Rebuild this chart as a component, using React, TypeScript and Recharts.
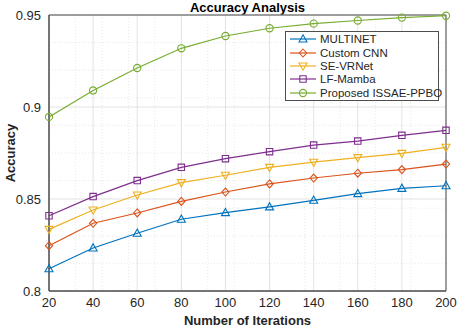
import { LineChart, Line, XAxis, YAxis, CartesianGrid, ReferenceArea } from "recharts";

const iterations = [20, 40, 60, 80, 100, 120, 140, 160, 180, 200];
const multinet = [0.8121, 0.8234, 0.8314, 0.839, 0.8426, 0.8457, 0.8493, 0.8529, 0.8558, 0.8572];
const customCnn = [0.8246, 0.8368, 0.8424, 0.8487, 0.8538, 0.8582, 0.8614, 0.864, 0.866, 0.869];
const seVrnet = [0.8335, 0.844, 0.8522, 0.8589, 0.8629, 0.8672, 0.87, 0.8725, 0.8748, 0.8781];
const lfMamba = [0.8409, 0.8513, 0.86, 0.8672, 0.8719, 0.8757, 0.8793, 0.8815, 0.8846, 0.8873];
const proposed = [0.8946, 0.909, 0.9212, 0.9319, 0.9386, 0.9428, 0.9453, 0.947, 0.9486, 0.9496];
const yTicks = [0.8, 0.85, 0.9, 0.95];

const SERIES = [
  { key: "multinet", name: "MULTINET", color: "#0072BD", marker: "up", values: multinet },
  { key: "customCnn", name: "Custom CNN", color: "#D95319", marker: "diamond", values: customCnn },
  { key: "seVrnet", name: "SE-VRNet", color: "#EDB120", marker: "down", values: seVrnet },
  { key: "lfMamba", name: "LF-Mamba", color: "#7E2F8E", marker: "square", values: lfMamba },
  { key: "proposed", name: "Proposed ISSAE-PPBO", color: "#77AC30", marker: "circle", values: proposed },
];

const data = iterations.map((it, i) => {
  const row: Record<string, number> = { iter: it };
  SERIES.forEach((s) => (row[s.key] = s.values[i]));
  return row;
});

// minor grid like matlab
const minorX = Array.from({ length: 46 }, (_, i) => 20 + i * 4);
const minorY = Array.from({ length: 31 }, (_, i) => +(0.8 + i * 0.005).toFixed(3));

const FONT = '"Liberation Sans", Arial, sans-serif';
const TXT = "#262626";

function markerPath(kind: string, cx: number, cy: number) {
  const r = 3.6;
  switch (kind) {
    case "up":
      return `M${cx},${cy - r - 0.6} L${cx + r + 0.4},${cy + r - 0.6} L${cx - r - 0.4},${cy + r - 0.6} Z`;
    case "down":
      return `M${cx},${cy + r + 0.6} L${cx + r + 0.4},${cy - r + 0.6} L${cx - r - 0.4},${cy - r + 0.6} Z`;
    case "diamond":
      return `M${cx},${cy - r - 0.4} L${cx + r},${cy} L${cx},${cy + r + 0.4} L${cx - r},${cy} Z`;
    case "square":
      return `M${cx - 3.2},${cy - 3.2} h6.4 v6.4 h-6.4 Z`;
    default:
      return `M${cx - r},${cy} a${r},${r} 0 1,0 ${2 * r},0 a${r},${r} 0 1,0 ${-2 * r},0`;
  }
}

function Marker({ kind, color, cx, cy }: { kind: string; color: string; cx?: number; cy?: number }) {
  if (cx == null || cy == null) return null;
  return <path d={markerPath(kind, cx, cy)} fill="none" stroke={color} strokeWidth={1.1} />;
}

export default function App() {
  return (
    <div style={{ position: "absolute", left: 0, top: 0, width: 459, height: 328, background: "#fff", fontFamily: FONT }}>
      <div
        style={{
          position: "absolute",
          left: 49,
          width: 397,
          top: 0,
          textAlign: "center",
          fontWeight: "bold",
          fontSize: 13,
          lineHeight: "15px",
          color: "#000",
        }}
      >
        Accuracy Analysis
      </div>
      <LineChart width={459} height={328} data={data} margin={{ top: 15, right: 13, bottom: 0, left: 0 }}>
        <CartesianGrid
          verticalValues={minorX}
          horizontalValues={minorY}
          stroke="#e2e2e2"
          strokeDasharray="1 2"
          strokeWidth={0.8}
        />
        <CartesianGrid verticalValues={iterations} horizontalValues={yTicks} stroke="#dcdcdc" strokeWidth={0.8} />
        <XAxis
          dataKey="iter"
          type="number"
          domain={[20, 200]}
          ticks={iterations}
          height={37}
          tickLine={false}
          tickMargin={1}
          axisLine={{ stroke: "#4d4d4d" }}
          tick={{ fill: TXT, fontSize: 13, fontFamily: FONT }}
          label={{
            value: "Number of Iterations",
            position: "insideBottom",
            offset: 3,
            style: { fontWeight: "bold", fontSize: 13, fill: TXT, fontFamily: FONT },
          }}
        />
        <YAxis
          type="number"
          domain={[0.8, 0.95]}
          ticks={yTicks}
          width={49}
          tickLine={false}
          tickMargin={2}
          axisLine={{ stroke: "#4d4d4d" }}
          tickFormatter={(v: number) => String(v)}
          tick={{ fill: TXT, fontSize: 13, fontFamily: FONT }}
          label={{
            value: "Accuracy",
            angle: -90,
            position: "insideLeft",
            offset: 10,
            style: { fontWeight: "bold", fontSize: 13, fill: TXT, fontFamily: FONT, textAnchor: "middle" },
          }}
        />
        <ReferenceArea x1={20} x2={200} y1={0.8} y2={0.95} fill="none" stroke="#4d4d4d" strokeWidth={1} />
        {SERIES.map((s) => (
          <Line
            key={s.key}
            dataKey={s.key}
            name={s.name}
            stroke={s.color}
            strokeWidth={1.2}
            isAnimationActive={false}
            dot={(p: any) => <Marker key={`${s.key}-${p.index}`} kind={s.marker} color={s.color} cx={p.cx} cy={p.cy} />}
            activeDot={false}
          />
        ))}
      </LineChart>
      <div
        style={{
          position: "absolute",
          left: 285,
          top: 31,
          width: 152,
          height: 67,
          border: "1px solid #4d4d4d",
          background: "#fff",
          paddingTop: 0.5,
        }}
      >
        {SERIES.map((s) => (
          <div key={s.key} style={{ display: "flex", alignItems: "center", height: 13.4 }}>
            <svg width={34} height={12} style={{ flex: "none" }}>
              <line x1={4} x2={30} y1={6} y2={6} stroke={s.color} strokeWidth={1.2} />
              <Marker kind={s.marker} color={s.color} cx={17} cy={6} />
            </svg>
            <span style={{ fontSize: 11.5, color: TXT, whiteSpace: "nowrap" }}>{s.name}</span>
          </div>
        ))}
      </div>
    </div>
  );
}
